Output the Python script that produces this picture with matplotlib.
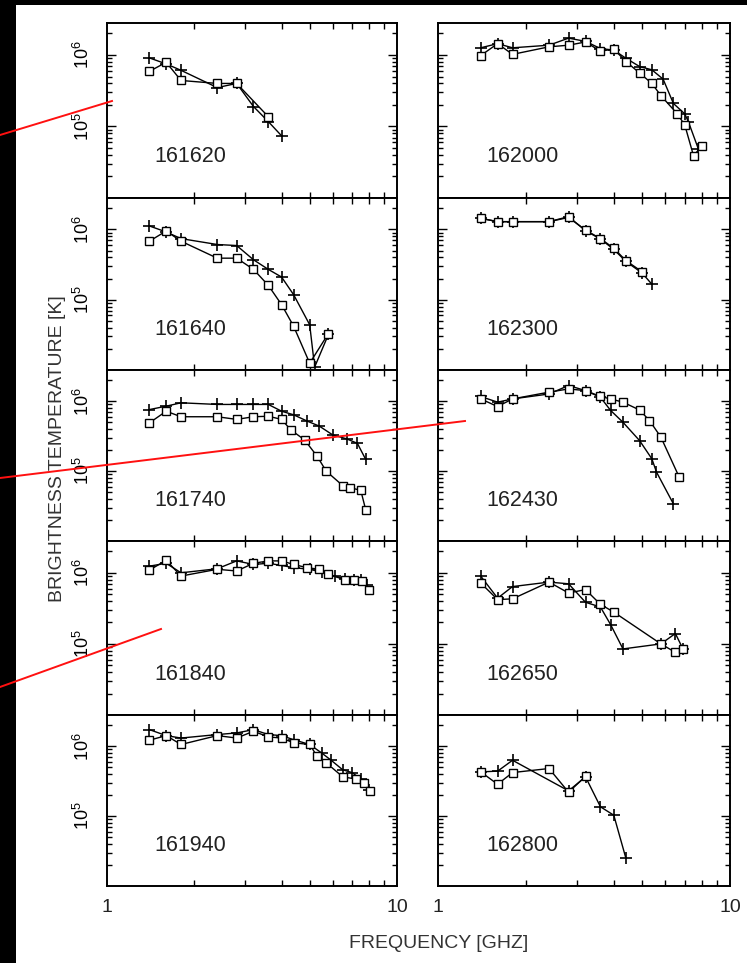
import matplotlib
matplotlib.use("Agg")
import matplotlib.pyplot as plt
from matplotlib.lines import Line2D
from matplotlib.patches import Rectangle
from matplotlib.ticker import LogLocator, NullFormatter, FixedLocator

plt.rcParams['font.family'] = ['Liberation Sans', 'DejaVu Sans']
plt.rcParams['mathtext.default'] = 'regular'

# brightness temperature spectra, one panel per time (UT, hhmmss)
# "+" series and open-square series
f_161620_p = [1.4, 1.6, 1.8, 2.4, 2.8, 3.2, 3.6, 4.0]
t_161620_p = [9.1e5, 7.5e5, 6.1e5, 3.5e5, 4.0e5, 1.9e5, 1.17e5, 7.4e4]
f_161620_s = [1.4, 1.6, 1.8, 2.4, 2.8, 3.6]
t_161620_s = [5.9e5, 7.9e5, 4.4e5, 4.0e5, 4.0e5, 1.37e5]

f_161640_p = [1.4, 1.6, 1.8, 2.4, 2.8, 3.2, 3.6, 4.0, 4.4, 5.0, 5.2, 5.8]
t_161640_p = [1.12e6, 9.2e5, 7.4e5, 6.1e5, 5.9e5, 3.7e5, 2.7e5, 2.1e5, 1.18e5, 4.4e4, 1.1e4, 3.2e4]
f_161640_s = [1.4, 1.6, 1.8, 2.4, 2.8, 3.2, 3.6, 4.0, 4.4, 5.0, 5.8]
t_161640_s = [6.8e5, 9.5e5, 6.8e5, 3.9e5, 3.9e5, 2.7e5, 1.6e5, 8.5e4, 4.2e4, 1.25e4, 3.3e4]

f_161740_p = [1.4, 1.6, 1.8, 2.4, 2.8, 3.2, 3.6, 4.0, 4.4, 4.9, 5.4, 6.0, 6.7, 7.3, 7.8]
t_161740_p = [7.6e5, 8.5e5, 9.5e5, 9.0e5, 9.0e5, 9.0e5, 9.0e5, 7.2e5, 6.4e5, 5.2e5, 4.4e5,
              3.3e5, 2.9e5, 2.5e5, 1.47e5]
f_161740_s = [1.4, 1.6, 1.8, 2.4, 2.8, 3.2, 3.6, 4.0, 4.3, 4.8, 5.3, 5.7, 6.5, 6.9, 7.5, 7.8]
t_161740_s = [4.9e5, 7.2e5, 6.0e5, 6.0e5, 5.5e5, 6.0e5, 6.1e5, 5.5e5, 3.9e5, 2.8e5, 1.64e5,
              1.0e5, 6.2e4, 5.8e4, 5.3e4, 2.8e4]

f_161840_p = [1.4, 1.6, 1.8, 2.4, 2.8, 3.2, 3.6, 4.0, 4.4, 5.0, 5.5, 6.1, 6.6, 7.1, 7.5, 7.9]
t_161840_p = [1.24e6, 1.36e6, 1.0e6, 1.14e6, 1.47e6, 1.31e6, 1.36e6, 1.27e6, 1.18e6, 1.12e6,
              1.02e6, 9.0e5, 8.2e5, 8.0e5, 8.0e5, 6.8e5]
f_161840_s = [1.4, 1.6, 1.8, 2.4, 2.8, 3.2, 3.6, 4.0, 4.4, 4.9, 5.4, 5.8, 6.6, 7.1, 7.6, 8.0]
t_161840_s = [1.09e6, 1.5e6, 9.0e5, 1.12e6, 1.06e6, 1.36e6, 1.47e6, 1.47e6, 1.31e6, 1.18e6,
              1.12e6, 9.5e5, 8.0e5, 7.9e5, 7.6e5, 5.8e5]

f_161940_p = [1.4, 1.6, 1.8, 2.4, 2.8, 3.2, 3.6, 4.0, 4.4, 5.0, 5.5, 5.9, 6.5, 7.0, 7.5, 8.0]
t_161940_p = [1.73e6, 1.42e6, 1.31e6, 1.47e6, 1.55e6, 1.73e6, 1.47e6, 1.42e6, 1.24e6, 1.06e6,
              8.0e5, 6.4e5, 4.6e5, 4.2e5, 3.4e5, 2.4e5]
f_161940_s = [1.4, 1.6, 1.8, 2.4, 2.8, 3.2, 3.6, 4.0, 4.4, 5.0, 5.3, 5.7, 6.5, 7.2, 7.7, 8.1]
t_161940_s = [1.22e6, 1.42e6, 1.06e6, 1.42e6, 1.31e6, 1.64e6, 1.36e6, 1.31e6, 1.12e6, 1.06e6,
              7.2e5, 5.8e5, 3.65e5, 3.4e5, 3.0e5, 2.3e5]

f_162000_p = [1.4, 1.6, 1.8, 2.4, 2.8, 3.2, 3.6, 4.0, 4.4, 4.9, 5.4, 5.9, 6.4, 7.0, 7.2, 7.8]
t_162000_p = [1.26e6, 1.44e6, 1.26e6, 1.37e6, 1.72e6, 1.55e6, 1.23e6, 1.17e6, 9.0e5, 6.9e5,
              6.2e5, 4.6e5, 2.1e5, 1.5e5, 1.17e5, 4.8e4]
f_162000_s = [1.4, 1.6, 1.8, 2.4, 2.8, 3.2, 3.6, 4.0, 4.4, 4.9, 5.4, 5.8, 6.6, 7.0, 7.5, 8.0]
t_162000_s = [9.8e5, 1.44e6, 1.02e6, 1.3e6, 1.37e6, 1.52e6, 1.13e6, 1.21e6, 8.1e5, 5.6e5,
              4.0e5, 2.7e5, 1.5e5, 1.05e5, 3.9e4, 5.3e4]

f_162300_p = [1.4, 1.6, 1.8, 2.4, 2.8, 3.2, 3.6, 4.0, 4.4, 5.0, 5.4]
t_162300_p = [1.44e6, 1.29e6, 1.29e6, 1.29e6, 1.52e6, 9.6e5, 7.3e5, 5.2e5, 3.5e5, 2.4e5, 1.66e5]
f_162300_s = [1.4, 1.6, 1.8, 2.4, 2.8, 3.2, 3.6, 4.0, 4.4, 5.0]
t_162300_s = [1.44e6, 1.29e6, 1.29e6, 1.29e6, 1.48e6, 9.8e5, 7.4e5, 5.4e5, 3.6e5, 2.5e5]

f_162430_p = [1.4, 1.6, 1.8, 2.4, 2.8, 3.2, 3.6, 3.9, 4.3, 4.9, 5.4, 5.6, 6.4]
t_162430_p = [1.17e6, 9.7e5, 1.08e6, 1.27e6, 1.68e6, 1.42e6, 1.14e6, 7.4e5, 5.0e5, 2.74e5,
              1.5e5, 9.7e4, 3.4e4]
f_162430_s = [1.4, 1.6, 1.8, 2.4, 2.8, 3.2, 3.6, 3.9, 4.3, 4.9, 5.3, 5.8, 6.7]
t_162430_s = [1.08e6, 8.4e5, 1.08e6, 1.35e6, 1.5e6, 1.42e6, 1.17e6, 1.08e6, 9.7e5, 7.5e5,
              5.3e5, 3.06e5, 8.2e4]

f_162650_p = [1.4, 1.6, 1.8, 2.4, 2.8, 3.2, 3.6, 3.9, 4.3, 5.8, 6.5, 6.9]
t_162650_p = [9.0e5, 4.4e5, 6.4e5, 7.4e5, 7.0e5, 3.85e5, 3.3e5, 1.87e5, 8.5e4, 1.0e5, 1.4e5, 8.5e4]
f_162650_s = [1.4, 1.6, 1.8, 2.4, 2.8, 3.2, 3.6, 4.0, 5.8, 6.5, 6.9]
t_162650_s = [7.2e5, 4.2e5, 4.3e5, 7.4e5, 5.2e5, 5.8e5, 3.6e5, 2.8e5, 1.0e5, 7.6e4, 8.5e4]

f_162800_p = [1.4, 1.6, 1.8, 2.8, 3.2, 3.6, 4.0, 4.4]
t_162800_p = [4.3e5, 4.4e5, 6.3e5, 2.3e5, 3.65e5, 1.36e5, 1.03e5, 2.5e4]
f_162800_s = [1.4, 1.6, 1.8, 2.4, 2.8, 3.2]
t_162800_s = [4.3e5, 2.86e5, 4.2e5, 4.8e5, 2.2e5, 3.7e5]

left_times = ['161620', '161640', '161740', '161840', '161940']
right_times = ['162000', '162300', '162430', '162650', '162800']

series = {
    '161620': (f_161620_p, t_161620_p, f_161620_s, t_161620_s),
    '161640': (f_161640_p, t_161640_p, f_161640_s, t_161640_s),
    '161740': (f_161740_p, t_161740_p, f_161740_s, t_161740_s),
    '161840': (f_161840_p, t_161840_p, f_161840_s, t_161840_s),
    '161940': (f_161940_p, t_161940_p, f_161940_s, t_161940_s),
    '162000': (f_162000_p, t_162000_p, f_162000_s, t_162000_s),
    '162300': (f_162300_p, t_162300_p, f_162300_s, t_162300_s),
    '162430': (f_162430_p, t_162430_p, f_162430_s, t_162430_s),
    '162650': (f_162650_p, t_162650_p, f_162650_s, t_162650_s),
    '162800': (f_162800_p, t_162800_p, f_162800_s, t_162800_s),
}

W, H = 747, 963
fig = plt.figure(figsize=(W / 100, H / 100), dpi=100)
fig.patch.set_facecolor('white')

# scanner edge
fig.add_artist(Rectangle((0, 0), 16 / W, 1, transform=fig.transFigure,
                         facecolor='black', edgecolor='none', zorder=0))
fig.add_artist(Rectangle((0, 1 - 5 / H), 1, 5 / H, transform=fig.transFigure,
                         facecolor='black', edgecolor='none', zorder=0))

row_edges = [23, 198, 370, 541, 715, 886]   # pixel rows, top to bottom
col_edges = [(107, 397), (438, 730)]         # pixel columns


def make_axes(col, row):
    x0, x1 = col_edges[col]
    top, bot = row_edges[row], row_edges[row + 1]
    return fig.add_axes([x0 / W, 1 - bot / H, (x1 - x0) / W, (bot - top) / H])


def style_axes(ax, show_y, show_x):
    ax.set_xscale('log')
    ax.set_yscale('log')
    ax.set_xlim(1, 10)
    ax.set_ylim(1e4, 2.8e6)
    for s in ax.spines.values():
        s.set_linewidth(1.4)
    ax.xaxis.set_major_locator(FixedLocator([1, 10]))
    ax.xaxis.set_minor_locator(LogLocator(base=10, subs=range(2, 10)))
    ax.xaxis.set_minor_formatter(NullFormatter())
    ax.yaxis.set_major_locator(FixedLocator([1e5, 1e6]))
    ax.yaxis.set_minor_locator(LogLocator(base=10, subs=range(2, 10)))
    ax.yaxis.set_minor_formatter(NullFormatter())
    ax.tick_params(which='both', direction='in', top=True, right=True, width=1.0)
    ax.tick_params(axis='y', which='major', length=6.5)
    ax.tick_params(axis='y', which='minor', length=3.5)
    ax.tick_params(axis='x', which='minor', length=4.5)
    ax.tick_params(axis='x', which='major', length=0, pad=9, labelsize=14)
    if show_y:
        ax.set_yticklabels([r'$10^5$', r'$10^6$'], rotation=90, va='center', fontsize=13)
        ax.tick_params(axis='y', which='major', pad=10)
    else:
        ax.set_yticklabels([])
    if show_x:
        ax.set_xticklabels(['1', '10'], color='#222222')
    else:
        ax.set_xticklabels([])


for col, times in enumerate([left_times, right_times]):
    for row, label in enumerate(times):
        ax = make_axes(col, row)
        fp, tp, fs, ts = series[label]
        ax.plot(fp, tp, color='black', linewidth=1.0, marker='+',
                markersize=8.5, markeredgewidth=1.2, clip_on=True)
        ax.plot(fs, ts, color='black', linewidth=1.0, marker='s',
                markersize=6, markerfacecolor='white', markeredgewidth=1.0,
                clip_on=True)
        style_axes(ax, show_y=(col == 0), show_x=(row == len(times) - 1))
        ax.text(0.165, 0.235, label, transform=ax.transAxes, fontsize=15.5,
                ha='left', va='center', color='#222222')

fig.text(57 / W, 1 - 449 / H, 'BRIGHTNESS TEMPERATURE [K]', rotation=90,
         ha='center', va='center', fontsize=14, color='#333333')
fig.text(439 / W, 1 - 943 / H, 'FREQUENCY [GHZ]', ha='center', va='center',
         fontsize=14, color='#333333')

# red pen strokes drawn over the sheet
red_strokes = [((0, 135), (112, 101)), ((0, 478), (465, 421)), ((0, 687), (161, 629))]
for (xa, ya), (xb, yb) in red_strokes:
    fig.add_artist(Line2D([xa / W, xb / W], [1 - ya / H, 1 - yb / H],
                          transform=fig.transFigure, color='#ff1010',
                          linewidth=1.4, zorder=10))

fig.savefig('out.png', dpi=100, facecolor=fig.get_facecolor())
